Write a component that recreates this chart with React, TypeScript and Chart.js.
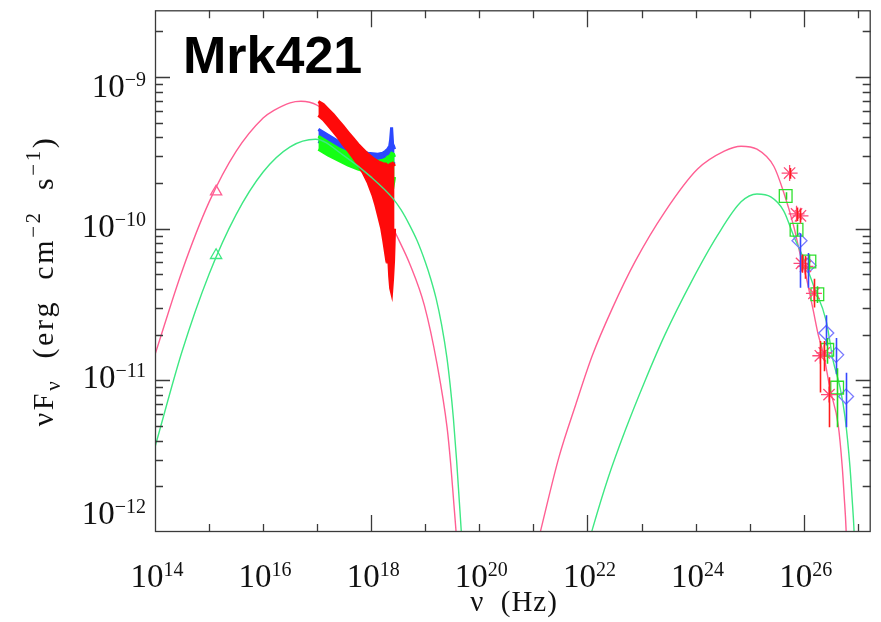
import { useEffect, useRef } from "react";
import { Chart, registerables } from "chart.js";

Chart.register(...registerables);

// ---------- axes ----------
const X_MIN_EXP = 14;
const X_MAX_EXP = 27.24;
const Y_MIN_EXP = -12;
const Y_MAX_EXP = -8.56;
const xTickExps = [14, 15, 16, 17, 18, 19, 20, 21, 22, 23, 24, 25, 26, 27];
const xLabelExps = [14, 16, 18, 20, 22, 24, 26];
const yDecadeExps = [-12, -11, -10, -9];
const yLabelExps = [-9, -10, -11, -12];
const titleText = "Mrk421";

// ---------- model curves (log10 nu, log10 nuFnu) ----------
const highSyncLogNu = [14.0, 14.5, 15.0, 15.5, 16.0, 16.2, 16.5, 16.7, 17.0, 17.5, 18.0, 18.396, 18.725, 18.982, 19.22, 19.403, 19.47, 19.53, 19.57, 19.6];
const highSyncLogF = [-10.83, -10.28, -9.825, -9.49, -9.27, -9.22, -9.17, -9.16, -9.186, -9.346, -9.65, -9.987, -10.242, -10.504, -10.897, -11.31, -11.55, -11.82, -12.0, -12.16];

const lowSyncLogNu = [14.0, 14.5, 15.0, 15.5, 16.0, 16.5, 16.97, 17.5, 18.0, 18.4, 18.55, 18.7, 18.85, 19.0, 19.1, 19.2, 19.3, 19.4, 19.46, 19.52, 19.58, 19.63, 19.665, 19.69];
const lowSyncLogF = [-11.44, -10.81, -10.3, -9.907, -9.626, -9.46, -9.41, -9.52, -9.66, -9.8, -9.875, -9.97, -10.08, -10.22, -10.33, -10.46, -10.63, -10.85, -11.03, -11.25, -11.53, -11.8, -11.99, -12.16];

const highICLogNu = [21.02, 21.143, 21.473, 21.784, 22.095, 22.462, 22.883, 23.432, 24.037, 24.531, 24.842, 25.136, 25.45, 25.63, 25.813, 25.941, 26.051, 26.18, 26.27, 26.363, 26.491, 26.64, 26.714, 26.75, 26.784, 26.8];
const highICLogF = [-12.16, -11.978, -11.506, -11.159, -10.832, -10.524, -10.216, -9.889, -9.607, -9.489, -9.456, -9.476, -9.59, -9.76, -9.98, -10.177, -10.327, -10.544, -10.7, -10.819, -11.061, -11.297, -11.572, -11.768, -11.978, -12.16];

const lowICLogNu = [21.955, 22.095, 22.388, 22.7, 23.066, 23.432, 23.927, 24.403, 24.842, 25.136, 25.392, 25.63, 25.813, 25.996, 26.18, 26.418, 26.546, 26.674, 26.766, 26.857, 26.894, 26.93, 26.95];
const lowICLogF = [-12.16, -11.978, -11.637, -11.329, -11.002, -10.7, -10.347, -10.046, -9.823, -9.771, -9.79, -9.882, -10.046, -10.196, -10.373, -10.609, -10.871, -11.048, -11.244, -11.572, -11.768, -11.978, -12.16];

// ---------- UV points ----------
const uvLogNu = [15.13];
const uvHighLogF = [-9.756];
const uvLowLogF = [-10.175];

// ---------- X-ray spectra (upper / lower envelope) ----------
const xrRedLogNu = [17.022, 17.114, 17.205, 17.297, 17.388, 17.48, 17.571, 17.663, 17.755, 17.846, 17.938, 18.029, 18.084, 18.139, 18.194, 18.231, 18.267, 18.286, 18.304, 18.322, 18.341, 18.359, 18.377, 18.396, 18.414, 18.432];
const xrRedHiLogF = [-9.162, -9.181, -9.214, -9.247, -9.286, -9.325, -9.365, -9.404, -9.443, -9.476, -9.509, -9.535, -9.548, -9.561, -9.568, -9.574, -9.574, -9.581, -9.581, -9.581, -9.581, -9.574, -9.574, -9.568, -9.574, -9.587];
const xrRedLoLogF = [-9.253, -9.28, -9.319, -9.358, -9.398, -9.443, -9.483, -9.528, -9.574, -9.627, -9.692, -9.777, -9.843, -9.921, -10.0, -10.079, -10.164, -10.118, -10.229, -10.183, -10.314, -10.393, -10.42, -10.327, -10.21, -10.0];

const xrBlueLogNu = [17.022, 17.114, 17.205, 17.388, 17.571, 17.755, 17.938, 18.121, 18.212, 18.267, 18.304, 18.341, 18.359, 18.377, 18.396, 18.414, 18.432];
const xrBlueHiLogF = [-9.345, -9.365, -9.384, -9.424, -9.456, -9.483, -9.502, -9.509, -9.502, -9.489, -9.476, -9.456, -9.411, -9.332, -9.443, -9.456, -9.476];
const xrBlueLoLogF = [-9.424, -9.443, -9.463, -9.496, -9.522, -9.548, -9.568, -9.574, -9.574, -9.574, -9.574, -9.568, -9.561, -9.555, -9.561, -9.568, -9.574];

const xrGreenLogNu = [17.022, 17.114, 17.205, 17.388, 17.571, 17.755, 17.938, 18.121, 18.212, 18.267, 18.304, 18.341, 18.377, 18.414, 18.432];
const xrGreenHiLogF = [-9.391, -9.411, -9.43, -9.47, -9.502, -9.528, -9.548, -9.555, -9.548, -9.542, -9.528, -9.522, -9.502, -9.509, -9.528];
const xrGreenLoLogF = [-9.476, -9.496, -9.515, -9.548, -9.581, -9.607, -9.627, -9.646, -9.659, -9.673, -9.646, -9.686, -9.659, -9.699, -9.659];

// ---------- gamma-ray points ----------
const gPinkLogNu = [25.74, 25.868, 25.941, 25.96, 26.033, 26.19, 26.308, 26.38, 26.469];
const gPinkLogF = [-9.633, -9.902, -9.915, -10.229, -10.249, -10.426, -10.838, -10.819, -11.094];
const gPinkErrHi = [-9.6, -9.86, -9.87, -10.17, -10.18, -10.33, -10.74, -10.74, -10.98];
const gPinkErrLo = [-9.67, -9.95, -9.96, -10.29, -10.33, -10.52, -11.08, -10.94, -11.31];

const gGreenLogNu = [25.667, 25.868, 26.106, 26.253, 26.436, 26.619];
const gGreenLogF = [-9.784, -10.007, -10.216, -10.432, -10.799, -11.048];
const gGreenErrHi = [-9.76, -9.97, -10.17, -10.38, -10.72, -10.92];
const gGreenErrLo = [-9.81, -10.05, -10.27, -10.49, -10.89, -11.31];

const gBlueLogNu = [25.923, 26.088, 26.418, 26.601, 26.784];
const gBlueLogF = [-10.079, -10.242, -10.688, -10.832, -11.107];
const gBlueErrHi = [-10.03, -10.16, -10.57, -10.72, -10.95];
const gBlueErrLo = [-10.39, -10.39, -10.77, -10.96, -11.31];

// ---------- colours ----------
const PINK_LINE = "#ff5f93";
const GREEN_LINE = "#3ee883";
const XR_RED = "#ff0a0a";
const XR_BLUE = "#2b48ff";
const XR_GREEN = "#14ff14";
const G_PINK = "#ff4a78";
const G_GREEN = "#2ee02e";
const G_BLUE = "#7a7aff";
const AXIS = "#3a3a3a";

const pts = (lnu: number[], lf: number[]) => lnu.map((v, i) => ({ x: Math.pow(10, v), y: Math.pow(10, lf[i]) }));

const SERIF = '"Liberation Serif", "Times New Roman", serif';

function drawPow(ctx: CanvasRenderingContext2D, exp: number, x: number, baseline: number, align: "center" | "right", shift: number) {
  const mainFont = `33px ${SERIF}`;
  const supFont = `20px ${SERIF}`;
  const expStr = exp < 0 ? "\u2212" + Math.abs(exp) : String(exp);
  ctx.font = mainFont;
  const w1 = ctx.measureText("10").width;
  ctx.font = supFont;
  const w2 = ctx.measureText(expStr).width;
  const total = w1 + w2;
  const start = align === "center" ? x - total / 2 + shift : x - total;
  ctx.textAlign = "left";
  ctx.textBaseline = "alphabetic";
  ctx.font = mainFont;
  ctx.fillText("10", start, baseline);
  ctx.font = supFont;
  ctx.fillText(expStr, start + w1, baseline - 11);
}

type Run = { t: string; k: "n" | "sub" | "sup" };

function drawRuns(ctx: CanvasRenderingContext2D, runs: Run[], size: number, centerX: number, baseline: number, gap: number) {
  const widths = runs.map((r) => {
    const s = r.k === "n" ? size : size * 0.7;
    ctx.font = `${s}px ${SERIF}`;
    let w = 0;
    for (const ch of r.t) w += ctx.measureText(ch).width + gap;
    return w;
  });
  const total = widths.reduce((a, b) => a + b, 0);
  let x = centerX - total / 2;
  ctx.textAlign = "left";
  ctx.textBaseline = "alphabetic";
  runs.forEach((r, i) => {
    const s = r.k === "n" ? size : size * 0.7;
    ctx.font = `${s}px ${SERIF}`;
    const dy = r.k === "sub" ? size * 0.22 : r.k === "sup" ? -size * 0.42 : 0;
    let cx = x;
    for (const ch of r.t) {
      ctx.fillText(ch, cx, baseline + dy);
      cx += ctx.measureText(ch).width + gap;
    }
    x += widths[i];
  });
}

const yLabelBaseline = (exp: number, py: number) => {
  if (exp === -9) return py + 20;
  if (exp === -12) return Math.min(py + 8, 524);
  return py + 8;
};

const framePlugin = {
  id: "sedFrame",
  afterDraw(chart: any) {
    const { ctx, chartArea: a, scales } = chart;
    const xs = scales.x;
    const ys = scales.y;
    ctx.save();
    ctx.strokeStyle = AXIS;
    ctx.lineWidth = 1.3;
    ctx.strokeRect(a.left + 0.5, a.top + 0.5, a.right - a.left - 1, a.bottom - a.top - 1);
    ctx.beginPath();
    for (const e of xTickExps) {
      const px = Math.round(xs.getPixelForValue(Math.pow(10, e))) + 0.5;
      if (px <= a.left + 1 || px >= a.right - 1) continue;
      const len = e % 4 === 2 ? 17 : 8;
      ctx.moveTo(px, a.bottom);
      ctx.lineTo(px, a.bottom - len);
      ctx.moveTo(px, a.top);
      ctx.lineTo(px, a.top + len);
    }
    for (const d of yDecadeExps) {
      for (let m = 1; m <= 9; m++) {
        const v = m * Math.pow(10, d);
        if (v <= Math.pow(10, Y_MIN_EXP) || v >= Math.pow(10, Y_MAX_EXP)) continue;
        const py = Math.round(ys.getPixelForValue(v)) + 0.5;
        const len = m === 1 ? 15 : 8;
        ctx.moveTo(a.left, py);
        ctx.lineTo(a.left + len, py);
        ctx.moveTo(a.right, py);
        ctx.lineTo(a.right - len, py);
      }
    }
    ctx.stroke();

    // tick labels
    ctx.fillStyle = "#111";
    for (const e of xLabelExps) {
      const px = xs.getPixelForValue(Math.pow(10, e));
      drawPow(ctx, e, px, 587, "center", 2);
    }
    for (const e of yLabelExps) {
      const py = ys.getPixelForValue(Math.pow(10, e));
      drawPow(ctx, e, 146, yLabelBaseline(e, py), "right", 0);
    }

    // x title
    drawRuns(ctx, [{ t: "\u03bd", k: "n" }, { t: "  ", k: "n" }, { t: "(Hz)", k: "n" }], 29, 514, 611, 1);

    // y title (rotated)
    ctx.save();
    ctx.translate(53, 281);
    ctx.rotate(-Math.PI / 2);
    drawRuns(
      ctx,
      [
        { t: "\u03bdF", k: "n" },
        { t: "\u03bd", k: "sub" },
        { t: "  (erg  cm", k: "n" },
        { t: "\u22122", k: "sup" },
        { t: "  s", k: "n" },
        { t: "\u22121", k: "sup" },
        { t: ")", k: "n" },
      ],
      30,
      0,
      0,
      2.6
    );
    ctx.restore();

    // title
    ctx.fillStyle = "#000";
    ctx.font = 'bold 52px "Liberation Sans", Arial, sans-serif';
    ctx.textAlign = "left";
    ctx.fillText(titleText, 183, 73);
    ctx.restore();
  },
};

const errorBarPlugin = {
  id: "errorBars",
  afterDatasetsDraw(chart: any) {
    const { ctx, scales, chartArea: a } = chart;
    ctx.save();
    ctx.beginPath();
    ctx.rect(a.left, a.top, a.right - a.left, a.bottom - a.top);
    ctx.clip();
    chart.data.datasets.forEach((ds: any) => {
      if (!ds.errHi) return;
      ctx.strokeStyle = ds.errColor;
      ctx.lineWidth = 1.6;
      ctx.beginPath();
      ds.data.forEach((p: any, i: number) => {
        const x = Math.round(scales.x.getPixelForValue(p.x)) + 0.5;
        ctx.moveTo(x, scales.y.getPixelForValue(Math.pow(10, ds.errHi[i])));
        ctx.lineTo(x, scales.y.getPixelForValue(Math.pow(10, ds.errLo[i])));
      });
      ctx.stroke();
    });
    ctx.restore();
  },
};

export default function App() {
  const ref = useRef<HTMLCanvasElement | null>(null);
  useEffect(() => {
    if (!ref.current) return;
    const curve = (lnu: number[], lf: number[], color: string, order: number) => ({
      data: pts(lnu, lf),
      borderColor: color,
      borderWidth: 1.4,
      pointRadius: 0,
      cubicInterpolationMode: "monotone",
      fill: false,
      order,
    });
    const band = (lnu: number[], lf: number[], color: string, order: number, fill: any) => ({
      data: pts(lnu, lf),
      borderColor: color,
      backgroundColor: color,
      borderWidth: 3,
      pointRadius: 0,
      tension: 0,
      fill,
      order,
    });
    const marks = (lnu: number[], lf: number[], color: string, style: string, radius: number, order: number, extra: any = {}) => ({
      data: pts(lnu, lf),
      showLine: false,
      pointStyle: style,
      pointRadius: radius,
      pointBorderColor: color,
      pointBackgroundColor: "rgba(0,0,0,0)",
      pointBorderWidth: 1.3,
      borderColor: color,
      order,
      ...extra,
    });
    const chart = new Chart(ref.current, {
      type: "line",
      data: {
        datasets: [
          curve(highSyncLogNu, highSyncLogF, PINK_LINE, 8),
          curve(highICLogNu, highICLogF, PINK_LINE, 8),
          band(xrBlueLogNu, xrBlueHiLogF, XR_BLUE, 7, "+1"),
          band(xrBlueLogNu, xrBlueLoLogF, XR_BLUE, 7, false),
          band(xrGreenLogNu, xrGreenHiLogF, XR_GREEN, 6, "+1"),
          band(xrGreenLogNu, xrGreenLoLogF, XR_GREEN, 6, false),
          band(xrRedLogNu, xrRedHiLogF, XR_RED, 5, "+1"),
          band(xrRedLogNu, xrRedLoLogF, XR_RED, 5, false),
          curve(lowSyncLogNu, lowSyncLogF, GREEN_LINE, 4),
          curve(lowICLogNu, lowICLogF, GREEN_LINE, 4),
          marks(uvLogNu, uvHighLogF, PINK_LINE, "triangle", 6.5, 2),
          marks(uvLogNu, uvLowLogF, GREEN_LINE, "triangle", 6.5, 2),
          marks(gBlueLogNu, gBlueLogF, G_BLUE, "rectRot", 7.5, 3, { errHi: gBlueErrHi, errLo: gBlueErrLo, errColor: "#3548ff" }),
          marks(gGreenLogNu, gGreenLogF, G_GREEN, "rect", 9, 2, { errHi: gGreenErrHi, errLo: gGreenErrLo, errColor: "#22d822" }),
          marks(gPinkLogNu, gPinkLogF, G_PINK, "star", 8, 1, { errHi: gPinkErrHi, errLo: gPinkErrLo, errColor: "#ff1c1c" }),
        ] as any,
      },
      options: {
        animation: false,
        responsive: false,
        devicePixelRatio: 1,
        layout: { padding: { left: 155, top: 10, right: 3, bottom: 90 } },
        plugins: { legend: { display: false }, tooltip: { enabled: false } },
        scales: {
          x: { type: "logarithmic", min: Math.pow(10, X_MIN_EXP), max: Math.pow(10, X_MAX_EXP), display: false },
          y: { type: "logarithmic", min: Math.pow(10, Y_MIN_EXP), max: Math.pow(10, Y_MAX_EXP), display: false },
        },
      } as any,
      plugins: [errorBarPlugin, framePlugin],
    });
    return () => chart.destroy();
  }, []);
  return (
    <div style={{ position: "absolute", left: 0, top: 0, width: 881, height: 622, background: "#fff" }}>
      <canvas ref={ref} width={881} height={622} style={{ display: "block" }} />
    </div>
  );
}
